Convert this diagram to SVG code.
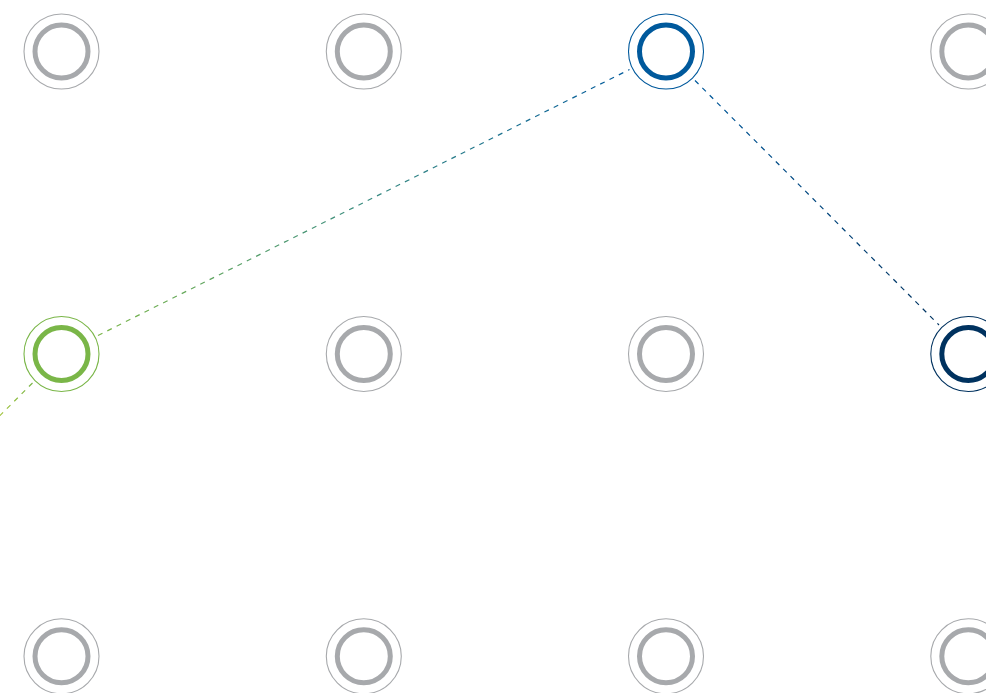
<svg xmlns="http://www.w3.org/2000/svg" width="986" height="693" viewBox="0 0 986 693">
  <style>
    .halo { fill: none; stroke-width: 1.1; }
    .ring { fill: #ffffff; stroke-width: 5; }
    .grey .halo, .grey .ring { stroke: #a7a9ac; }
    .green .halo, .green .ring { stroke: #7ab648; }
    .blue .halo, .blue .ring { stroke: #00599c; }
    .navy .halo, .navy .ring { stroke: #00325f; }
    .link { fill: none; stroke-width: 1.2; stroke-dasharray: 5 5.4; }
  </style>
  <defs>
    <linearGradient id="gLeft" gradientUnits="userSpaceOnUse" x1="0" y1="418" x2="32" y2="383">
      <stop offset="0" stop-color="#a3c43a"/>
      <stop offset="1" stop-color="#7ab648"/>
    </linearGradient>
    <linearGradient id="gGreenBlue" gradientUnits="userSpaceOnUse" x1="98" y1="335.5" x2="629" y2="69.5">
      <stop offset="0" stop-color="#7ab648"/>
      <stop offset="0.5" stop-color="#3a8c80"/>
      <stop offset="1" stop-color="#00599c"/>
    </linearGradient>
    <linearGradient id="gBlueNavy" gradientUnits="userSpaceOnUse" x1="695" y1="80.5" x2="939" y2="325">
      <stop offset="0" stop-color="#00599c"/>
      <stop offset="1" stop-color="#00325f"/>
    </linearGradient>
  </defs>

  <g id="connectors">
    <line class="link" x1="32.5" y1="383" x2="-10" y2="425.5" stroke="url(#gLeft)"/>
    <line class="link" x1="98" y1="335.5" x2="629.5" y2="69.5" stroke="url(#gGreenBlue)"/>
    <line class="link" x1="695" y1="80.5" x2="939" y2="325" stroke="url(#gBlueNavy)"/>
  </g>

  <!-- row 1 -->
  <g id="node-r1c1" class="grey"><circle class="halo" cx="61.5" cy="51.5" r="37.5"/><circle class="ring" cx="61.5" cy="51.5" r="26.5"/></g>
  <g id="node-r1c2" class="grey"><circle class="halo" cx="363.8" cy="51.5" r="37.5"/><circle class="ring" cx="363.8" cy="51.5" r="26.5"/></g>
  <g id="node-r1c3" class="blue"><circle class="halo" cx="666" cy="51.5" r="37.5"/><circle class="ring" cx="666" cy="51.5" r="26.5"/></g>
  <g id="node-r1c4" class="grey"><circle class="halo" cx="968.3" cy="51.5" r="37.5"/><circle class="ring" cx="968.3" cy="51.5" r="26.5"/></g>

  <!-- row 2 -->
  <g id="node-r2c1" class="green"><circle class="halo" cx="61.5" cy="354" r="37.5"/><circle class="ring" cx="61.5" cy="354" r="26.5"/></g>
  <g id="node-r2c2" class="grey"><circle class="halo" cx="363.8" cy="354" r="37.5"/><circle class="ring" cx="363.8" cy="354" r="26.5"/></g>
  <g id="node-r2c3" class="grey"><circle class="halo" cx="666" cy="354" r="37.5"/><circle class="ring" cx="666" cy="354" r="26.5"/></g>
  <g id="node-r2c4" class="navy"><circle class="halo" cx="968.3" cy="354" r="37.5"/><circle class="ring" cx="968.3" cy="354" r="26.5"/></g>

  <!-- row 3 -->
  <g id="node-r3c1" class="grey"><circle class="halo" cx="61.5" cy="656.3" r="37.5"/><circle class="ring" cx="61.5" cy="656.3" r="26.5"/></g>
  <g id="node-r3c2" class="grey"><circle class="halo" cx="363.8" cy="656.3" r="37.5"/><circle class="ring" cx="363.8" cy="656.3" r="26.5"/></g>
  <g id="node-r3c3" class="grey"><circle class="halo" cx="666" cy="656.3" r="37.5"/><circle class="ring" cx="666" cy="656.3" r="26.5"/></g>
  <g id="node-r3c4" class="grey"><circle class="halo" cx="968.3" cy="656.3" r="37.5"/><circle class="ring" cx="968.3" cy="656.3" r="26.5"/></g>
</svg>
